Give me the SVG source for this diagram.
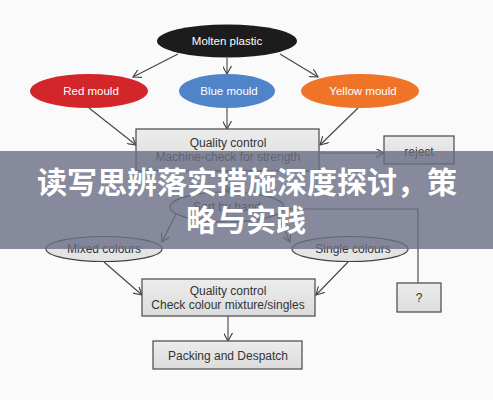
<svg xmlns="http://www.w3.org/2000/svg" width="493" height="400" viewBox="0 0 493 400">
<defs>
<marker id="arr" viewBox="0 0 10 10" refX="9" refY="5" markerWidth="9" markerHeight="9" markerUnits="userSpaceOnUse" orient="auto">
<path d="M0,0 L9,5 L0,10" fill="none" stroke="#444" stroke-width="1.3"/>
</marker>
<linearGradient id="boxg" x1="0" y1="0" x2="0" y2="1">
<stop offset="0" stop-color="#ececec"/>
<stop offset="1" stop-color="#dcdcdc"/>
</linearGradient>
</defs>
<style>
.lbl{font-family:"Liberation Sans",Arial,sans-serif;font-size:12px;fill:#333;text-anchor:middle}
.wl{font-family:"Liberation Sans",Arial,sans-serif;font-size:11.5px;fill:#fff;text-anchor:middle}
.box{fill:url(#boxg);stroke:#555;stroke-width:1.3}
.oval{fill:#e4e4e4;stroke:#444;stroke-width:1.2}
.con{fill:none;stroke:#444;stroke-width:1.1}
.ban{font-family:"Noto Sans CJK SC","Noto Sans CJK JP",sans-serif;font-weight:bold;font-size:30px;fill:#fff;text-anchor:middle}
</style>
<rect x="0" y="0" width="493" height="400" fill="#fafafa"/>
<g id="connectors">
<line class="con" x1="178" y1="54" x2="133" y2="77" marker-end="url(#arr)"/>
<line class="con" x1="227" y1="58" x2="227" y2="74" marker-end="url(#arr)"/>
<line class="con" x1="280" y1="54" x2="318" y2="77" marker-end="url(#arr)"/>
<line class="con" x1="89" y1="108" x2="136" y2="145" marker-end="url(#arr)"/>
<line class="con" x1="227" y1="108" x2="227" y2="129" marker-end="url(#arr)"/>
<line class="con" x1="358" y1="108" x2="320" y2="145" marker-end="url(#arr)"/>
<line class="con" x1="319" y1="153" x2="384" y2="153" marker-end="url(#arr)"/>
<line class="con" x1="227" y1="171" x2="227" y2="193" marker-end="url(#arr)"/>
<line class="con" x1="176" y1="214" x2="162" y2="242" marker-end="url(#arr)"/>
<line class="con" x1="277" y1="214" x2="290" y2="242" marker-end="url(#arr)"/>
<polyline class="con" points="285,209 418,209 418,283"/>
<line class="con" x1="104" y1="262" x2="142" y2="295" marker-end="url(#arr)"/>
<line class="con" x1="348" y1="262" x2="316" y2="295" marker-end="url(#arr)"/>
<line class="con" x1="228" y1="316" x2="228" y2="341" marker-end="url(#arr)"/>
</g>
<g id="molten"><ellipse cx="227" cy="41" rx="70" ry="16.5" fill="#1c1c1c"/><text class="wl" x="227" y="45">Molten plastic</text></g>
<g id="red"><ellipse cx="89" cy="91" rx="59" ry="17" fill="#d3262a"/><text class="wl" x="91" y="95">Red mould</text></g>
<g id="blue"><ellipse cx="227" cy="91" rx="48" ry="17" fill="#4f84c9"/><text class="wl" x="229" y="95">Blue mould</text></g>
<g id="yellow"><ellipse cx="360" cy="91" rx="59" ry="17" fill="#ef7428"/><text class="wl" x="363" y="95">Yellow mould</text></g>
<g id="qc1"><rect class="box" x="136" y="129" width="183" height="42"/><text class="lbl" x="228" y="147">Quality control</text><text class="lbl" x="228" y="161">Machine-check for strength</text></g>
<g id="reject"><rect class="box" x="384" y="136" width="70" height="28"/><text class="lbl" x="419" y="156">reject</text></g>
<g id="sort"><ellipse class="oval" cx="227" cy="207" rx="57" ry="15"/><text class="lbl" x="227" y="211">Sort by hand</text></g>
<g id="mixed"><ellipse class="oval" cx="104" cy="249" rx="58" ry="12.5"/><text class="lbl" x="104" y="253">Mixed colours</text></g>
<g id="single"><ellipse class="oval" cx="350" cy="249" rx="58" ry="12.5"/><text class="lbl" x="353" y="253">Single colours</text></g>
<g id="unknown"><rect class="box" x="397" y="283" width="44" height="29"/><text class="lbl" x="419" y="302">?</text></g>
<g id="qc2"><rect class="box" x="142" y="279" width="173" height="37"/><text class="lbl" x="228" y="295">Quality control</text><text class="lbl" x="228" y="309">Check colour mixture/singles</text></g>
<g id="packing"><rect class="box" x="153" y="341" width="149" height="28"/><text class="lbl" x="228" y="360">Packing and Despatch</text></g>
<g id="banner">
<rect x="0" y="151" width="493" height="98" fill="rgb(106,110,132)" fill-opacity="0.8"/>
<text class="ban" x="247" y="193">读写思辨落实措施深度探讨，策</text>
<text class="ban" x="246" y="231">略与实践</text>
</g>
</svg>
